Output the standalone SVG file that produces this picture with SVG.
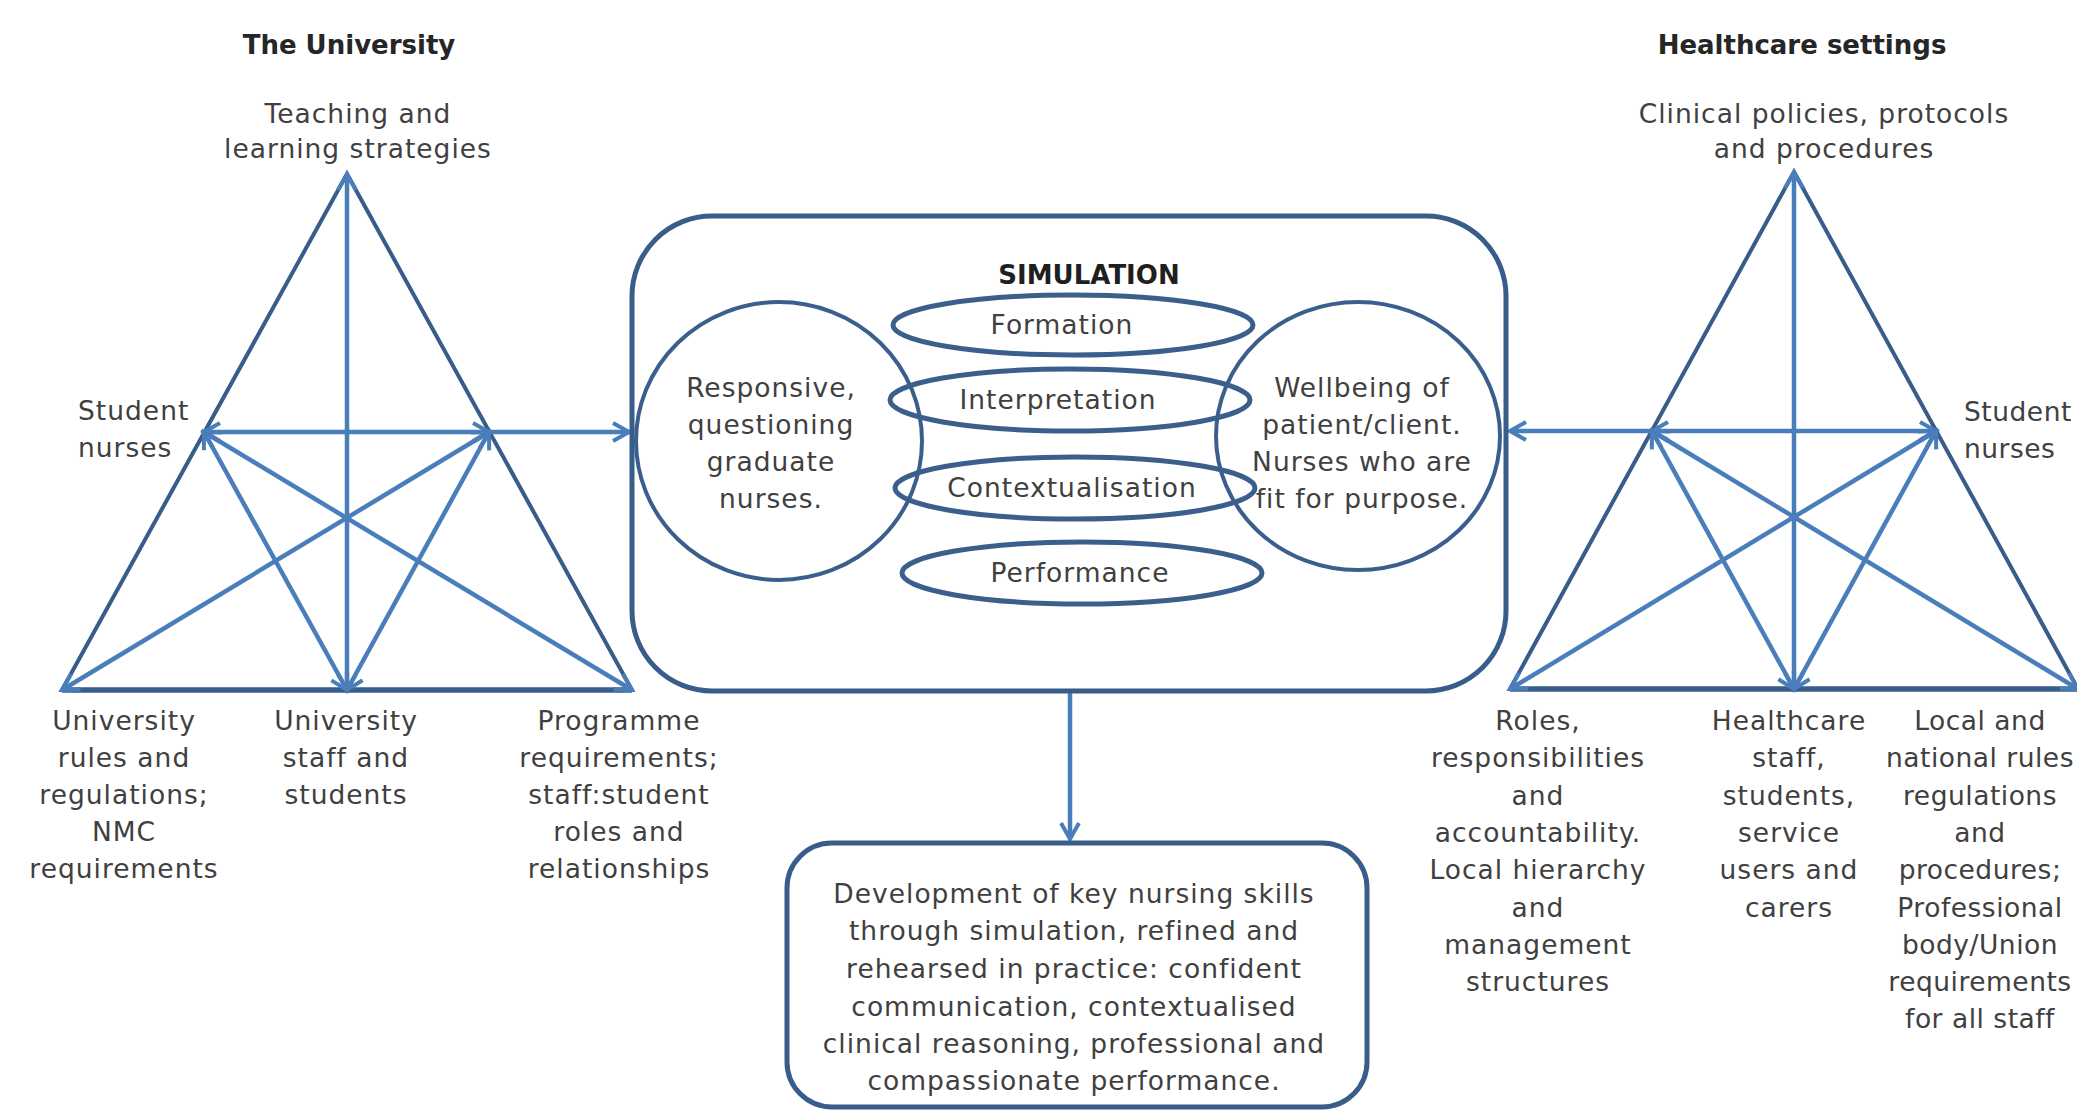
<svg xmlns="http://www.w3.org/2000/svg" width="2077" height="1110" viewBox="0 0 2077 1110">
<defs>
<style>
.t{font-family:"DejaVu Sans","Liberation Sans",sans-serif;font-size:26.5px;letter-spacing:1px;fill:#404040;text-anchor:middle}
.tl{text-anchor:start}
.tn{letter-spacing:0.5px}
.b{font-family:"DejaVu Sans","Liberation Sans",sans-serif;font-weight:bold;font-size:26px;fill:#262626;text-anchor:middle}
.sim{font-family:"DejaVu Sans","Liberation Sans",sans-serif;font-weight:bold;font-size:26px;fill:#1f1f1f;text-anchor:middle}
.tri{fill:none;stroke:#385D8A;stroke-width:4;stroke-linejoin:miter}
.base{fill:none;stroke:#385D8A;stroke-width:5.5}
.ar{fill:none;stroke:#4A7EBB;stroke-width:4.5;marker-start:url(#ah);marker-end:url(#ah)}
.ar1{fill:none;stroke:#4A7EBB;stroke-width:4.5;marker-end:url(#ah)}
.box{fill:none;stroke:#385D8A;stroke-width:5}
.ell{fill:none;stroke:#3B5F8C;stroke-width:4}
.sm{fill:none;stroke:#3B5F8C;stroke-width:5}
</style>
<marker id="ah" viewBox="0 0 20 20" markerWidth="20" markerHeight="20" refX="18" refY="10" orient="auto-start-reverse" markerUnits="userSpaceOnUse" style="overflow:visible">
<path d="M2,1 L18,10 L2,19" fill="none" stroke="#4A7EBB" stroke-width="4"/>
</marker>
</defs>
<rect width="2077" height="1110" fill="#ffffff"/>

<g id="triangle-left">
<polygon class="tri" points="347,174 62,690 632,690"/>
<line class="base" x1="62" y1="690" x2="632" y2="690"/>
</g>
<g id="triangle-right">
<polygon class="tri" points="1794,172 1510,689 2078,689"/>
<line class="base" x1="1510" y1="689" x2="2078" y2="689"/>
</g>

<g id="connectors">
<line class="ar" x1="347" y1="174" x2="347" y2="690"/>
<line class="ar" x1="204" y1="432" x2="347" y2="690"/>
<line class="ar" x1="204" y1="432" x2="632" y2="690"/>
<line class="ar" x1="62" y1="690" x2="489" y2="432"/>
<line class="ar" x1="347" y1="690" x2="489" y2="432"/>
<line class="ar" x1="204" y1="432" x2="489" y2="432"/>
<line class="ar1" x1="489" y1="432" x2="629" y2="432"/>
<line class="ar" x1="1794" y1="172" x2="1794" y2="689"/>
<line class="ar" x1="1652" y1="431" x2="1794" y2="689"/>
<line class="ar" x1="1652" y1="431" x2="2078" y2="689"/>
<line class="ar" x1="1510" y1="689" x2="1936" y2="431"/>
<line class="ar" x1="1794" y1="689" x2="1936" y2="431"/>
<line class="ar" x1="1652" y1="431" x2="1936" y2="431"/>
<line class="ar1" x1="1652" y1="431" x2="1510" y2="431"/>
<line class="ar1" x1="1070" y1="693" x2="1070" y2="839"/>
</g>

<g id="title-university"><text class="b" x="349" y="54">The University</text></g>
<g id="title-healthcare"><text class="b" x="1802" y="54">Healthcare settings</text></g>

<g id="node-teaching"><text class="t"><tspan x="358" y="123">Teaching and</tspan><tspan x="358" y="158">learning strategies</tspan></text></g>
<g id="node-student-left"><text class="t tl"><tspan x="78" y="420">Student</tspan><tspan x="78" y="457">nurses</tspan></text></g>
<g id="node-uni-rules"><text class="t"><tspan x="124" y="730">University</tspan><tspan x="124" y="767">rules and</tspan><tspan x="124" y="804">regulations;</tspan><tspan x="124" y="841">NMC</tspan><tspan x="124" y="878">requirements</tspan></text></g>
<g id="node-uni-staff"><text class="t"><tspan x="346" y="730">University</tspan><tspan x="346" y="767">staff and</tspan><tspan x="346" y="804">students</tspan></text></g>
<g id="node-programme"><text class="t"><tspan x="619" y="730">Programme</tspan><tspan x="619" y="767">requirements;</tspan><tspan x="619" y="804">staff:student</tspan><tspan x="619" y="841">roles and</tspan><tspan x="619" y="878">relationships</tspan></text></g>

<g id="node-simulation">
<rect class="box" x="632" y="216" width="874" height="475" rx="80" ry="80"/>
<text class="sim" x="1089" y="284">SIMULATION</text>
</g>
<g id="node-responsive">
<ellipse class="ell" cx="779" cy="441" rx="143" ry="139"/>
<text class="t"><tspan x="771" y="397">Responsive,</tspan><tspan x="771" y="434">questioning</tspan><tspan x="771" y="471">graduate</tspan><tspan x="771" y="508">nurses.</tspan></text>
</g>
<g id="node-wellbeing">
<ellipse class="ell" cx="1358" cy="436" rx="142" ry="134"/>
<text class="t"><tspan x="1362" y="397">Wellbeing of</tspan><tspan x="1362" y="434">patient/client.</tspan><tspan x="1362" y="471">Nurses who are</tspan><tspan x="1362" y="508">fit for purpose.</tspan></text>
</g>
<g id="node-formation">
<ellipse class="sm" cx="1073" cy="325" rx="180" ry="30"/>
<text class="t" x="1062" y="334">Formation</text>
</g>
<g id="node-interpretation">
<ellipse class="sm" cx="1070" cy="400" rx="180" ry="31"/>
<text class="t" x="1058" y="409">Interpretation</text>
</g>
<g id="node-contextualisation">
<ellipse class="sm" cx="1075" cy="488" rx="180" ry="31"/>
<text class="t" x="1072" y="497">Contextualisation</text>
</g>
<g id="node-performance">
<ellipse class="sm" cx="1082" cy="573" rx="180" ry="31"/>
<text class="t" x="1080" y="582">Performance</text>
</g>

<g id="node-development">
<rect class="box" x="787" y="843" width="580" height="264" rx="45" ry="45"/>
<text class="t"><tspan x="1074" y="903">Development of key nursing skills</tspan><tspan x="1074" y="940">through simulation, refined and</tspan><tspan x="1074" y="978">rehearsed in practice: confident</tspan><tspan x="1074" y="1016">communication, contextualised</tspan><tspan x="1074" y="1053">clinical reasoning, professional and</tspan><tspan x="1074" y="1090">compassionate performance.</tspan></text>
</g>

<g id="node-clinical"><text class="t"><tspan x="1824" y="123">Clinical policies, protocols</tspan><tspan x="1824" y="158">and procedures</tspan></text></g>
<g id="node-student-right"><text class="t tl tn"><tspan x="1964" y="421">Student</tspan><tspan x="1964" y="458">nurses</tspan></text></g>
<g id="node-roles"><text class="t"><tspan x="1538" y="730">Roles,</tspan><tspan x="1538" y="767">responsibilities</tspan><tspan x="1538" y="805">and</tspan><tspan x="1538" y="842">accountability.</tspan><tspan x="1538" y="879">Local hierarchy</tspan><tspan x="1538" y="917">and</tspan><tspan x="1538" y="954">management</tspan><tspan x="1538" y="991">structures</tspan></text></g>
<g id="node-hc-staff"><text class="t"><tspan x="1789" y="730">Healthcare</tspan><tspan x="1789" y="767">staff,</tspan><tspan x="1789" y="805">students,</tspan><tspan x="1789" y="842">service</tspan><tspan x="1789" y="879">users and</tspan><tspan x="1789" y="917">carers</tspan></text></g>
<g id="node-local"><text class="t tn"><tspan x="1980" y="730">Local and</tspan><tspan x="1980" y="767">national rules</tspan><tspan x="1980" y="805">regulations</tspan><tspan x="1980" y="842">and</tspan><tspan x="1980" y="879">procedures;</tspan><tspan x="1980" y="917">Professional</tspan><tspan x="1980" y="954">body/Union</tspan><tspan x="1980" y="991">requirements</tspan><tspan x="1980" y="1028">for all staff</tspan></text></g>
</svg>
